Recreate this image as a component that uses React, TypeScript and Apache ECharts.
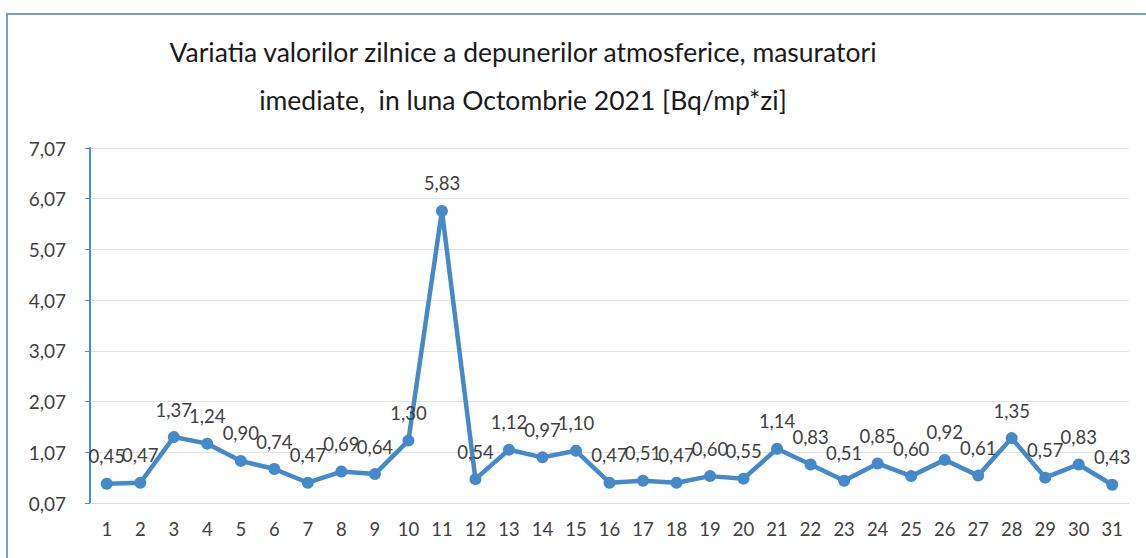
import React, { useEffect, useRef } from "react";
import * as echarts from "echarts";

const days = ["1","2","3","4","5","6","7","8","9","10","11","12","13","14","15","16","17","18","19","20","21","22","23","24","25","26","27","28","29","30","31"];
const values = [0.45,0.47,1.37,1.24,0.90,0.74,0.47,0.69,0.64,1.30,5.83,0.54,1.12,0.97,1.10,0.47,0.51,0.47,0.60,0.55,1.14,0.83,0.51,0.85,0.60,0.92,0.61,1.35,0.57,0.83,0.43];
const yTicks = [0.07,1.07,2.07,3.07,4.07,5.07,6.07,7.07];
const titleLines = ["Variatia valorilor zilnice a depunerilor atmosferice, masuratori", "imediate,  in luna Octombrie 2021 [Bq/mp*zi]"];

const fmt = (v: number) => v.toFixed(2).replace(".", ",");
const FONT = "Lato, 'Noto Sans', sans-serif";

export default function App() {
  const ref = useRef<HTMLDivElement>(null);
  useEffect(() => {
    if (!ref.current) return;
    const chart = echarts.init(ref.current, null, { renderer: "svg" });
    chart.setOption({
      animation: false,
      backgroundColor: "#ffffff",
      textStyle: { fontFamily: FONT },
      graphic: [
        {
          type: "rect",
          shape: { x: 7, y: 14, width: 1160, height: 560 },
          style: { fill: "none", stroke: "#7d9cc4", lineWidth: 2 },
          silent: true,
        },
        {
          type: "text",
          x: 523,
          y: 52,
          style: { text: titleLines[0], fontSize: 26.5, fontFamily: FONT, fill: "#1a1a1a", align: "center", verticalAlign: "middle" },
        },
        {
          type: "text",
          x: 523,
          y: 100,
          style: { text: titleLines[1], fontSize: 26.5, fontFamily: FONT, fill: "#1a1a1a", align: "center", verticalAlign: "middle" },
        },
      ],
      grid: { left: 90, right: 17, top: 148, bottom: 55, containLabel: false },
      xAxis: {
        type: "category",
        data: days,
        boundaryGap: true,
        axisLine: { show: true, lineStyle: { color: "#d9d9d9" } },
        axisTick: { show: false },
        axisLabel: { color: "#404040", fontSize: 18.5, margin: 16, fontFamily: FONT, interval: 0 },
      },
      yAxis: {
        type: "value",
        min: 0.07,
        max: 7.07,
        axisLine: { show: true, lineStyle: { color: "#4a8fc9", width: 2 } },
        axisTick: { show: true, length: 5, customValues: yTicks, lineStyle: { color: "#4a8fc9" } },
        axisLabel: { customValues: yTicks, formatter: (v: number) => fmt(v), color: "#404040", fontSize: 19, margin: 24, fontFamily: FONT },
        splitLine: { show: true, lineStyle: { color: "#e3e3e3", width: 1 } },
      },
      series: [
        {
          type: "line",
          data: values,
          symbol: "circle",
          symbolSize: 12,
          lineStyle: { color: "#4589c8", width: 4.5 },
          itemStyle: { color: "#4589c8" },
          label: {
            show: true,
            position: "top",
            distance: 12,
            formatter: (p: any) => fmt(p.value),
            color: "#404040",
            fontSize: 18.5,
            fontFamily: FONT,
          },
        },
      ],
    });
    return () => chart.dispose();
  }, []);
  return <div ref={ref} style={{ position: "fixed", left: 0, top: 0, width: 1146, height: 558 }} />;
}
